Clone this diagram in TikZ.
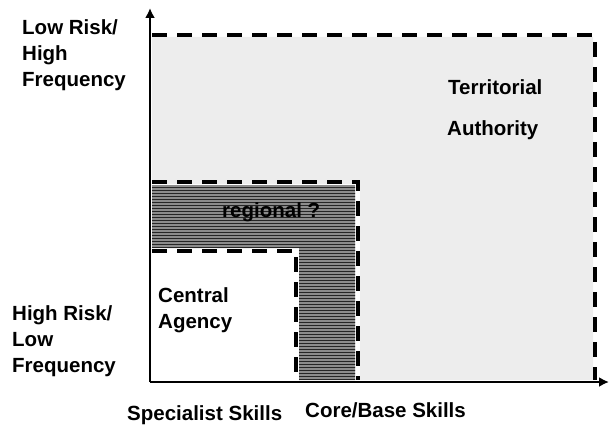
\documentclass[tikz,border=0pt]{standalone}
\usepackage{fontspec}
\setmainfont{Liberation Sans}
\usetikzlibrary{arrows.meta,patterns}
\tikzset{
  lbl/.style={font=\fontsize{20.5}{26}\selectfont\bfseries, inner sep=0pt, align=left, anchor=base west},
  dsh/.style={line width=3.5pt, dash pattern=on 15pt off 10pt},
  axis/.style={line width=2.5pt, -{Latex[length=10pt,width=10pt]}},
}
\begin{document}
\begin{tikzpicture}[x=1pt,y=-1pt]
\useasboundingbox (0,0) rectangle (609,425);
% coordinates
\coordinate (O) at (150,382);
\coordinate (Ytop) at (150,8);
\coordinate (Xend) at (609,382);
% fills
\fill[black!7] (152,37) -- (593,37) -- (593,380) -- (360,380) -- (360,184) -- (152,184) -- cycle;
\fill[black!45] (152,185) -- (355,185) -- (355,380) -- (299,380) -- (299,248) -- (152,248) -- cycle;
\fill[pattern=horizontal lines, pattern color=black!85] (152,185) -- (355,185) -- (355,380) -- (299,380) -- (299,248) -- (152,248) -- cycle;
% dashed boundaries
\draw[dsh] (152,35) -- (595,35) -- (595,380);
\draw[dsh] (152,182) -- (358,182) -- (358,380);
\draw[dsh] (152,251) -- (296,251) -- (296,380);
% axes
\draw[axis] (O) -- (Ytop);
\draw[axis] (O) -- (Xend);
% labels
\node[lbl] (lrhf) at (22,87) {Low Risk/\\High\\Frequency};
\node[lbl] (hrlf) at (12,372) {High Risk/\\Low\\Frequency};
\node[lbl] (ta1) at (448,95) {Territorial};
\node[lbl] (ta2) at (447,135) {Authority};
\node[lbl] (reg) at (222,217) {regional ?};
\node[lbl] (ca) at (158,328) {Central\\Agency};
\node[lbl] (ss) at (127,420) {Specialist Skills};
\node[lbl] (cb) at (305,417) {Core/Base Skills};
\end{tikzpicture}
\end{document}
